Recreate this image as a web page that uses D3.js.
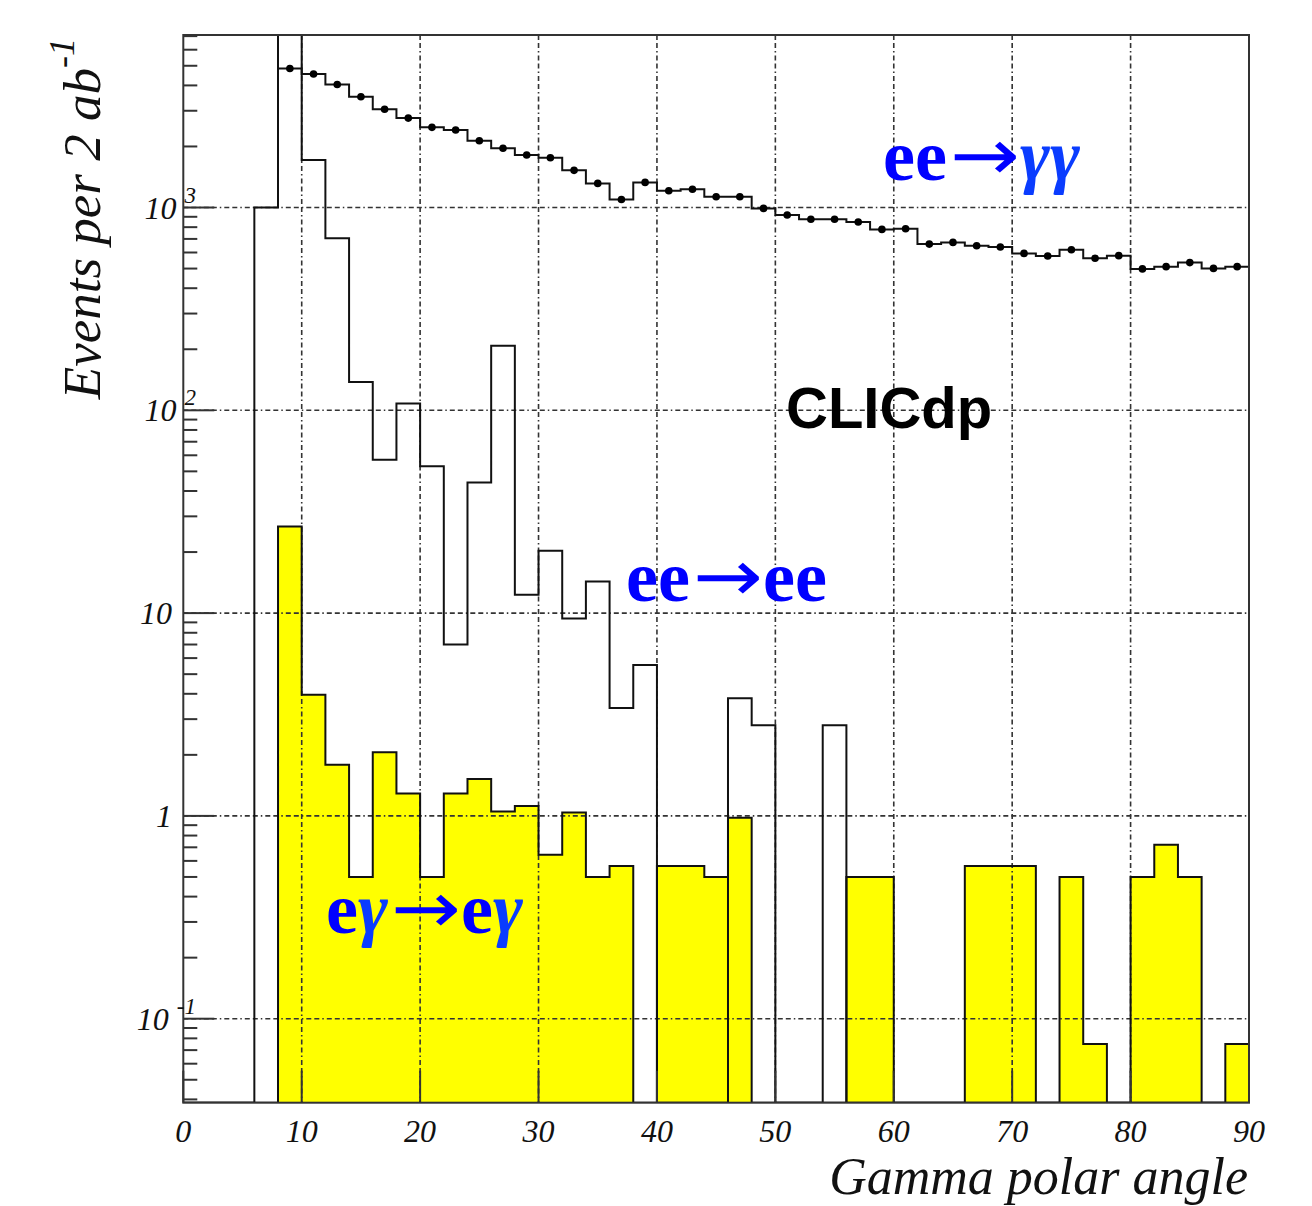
<!DOCTYPE html>
<html>
<head>
<meta charset="utf-8">
<script src="https://d3js.org/d3.v7.min.js"></script>
<style>
    body { margin: 0; background: #fff; }
</style>
</head>
<body>
<div id="chart"></div>
<script>
// histogram bins (lower edges, 2 degrees wide)
const binStarts = [0, 2, 4, 6, 8, 10, 12, 14, 16, 18, 20, 22, 24, 26, 28, 30, 32, 34, 36, 38,
    40, 42, 44, 46, 48, 50, 52, 54, 56, 58, 60, 62, 64, 66, 68, 70, 72, 74, 76, 78,
    80, 82, 84, 86, 88];
const binWidth = 2;

// ee -> gamma gamma (points + step line)
const eeToGG = [0, 0, 0, 0, 4850, 4550, 4045, 3515, 3050, 2760, 2485, 2410, 2135, 1960, 1815, 1760, 1525, 1315, 1095, 1330,
    1210, 1230, 1130, 1130, 990, 918, 875, 875, 848, 780, 786, 660, 673, 648, 639, 594, 577, 619, 562, 579,
    498, 511, 535, 501, 511];

// ee -> ee (open histogram), bin 8-10 is off scale
const eeToEE = [0, 0, 0, 1000, 30000, 1715, 705, 138, 57, 108, 53, 7.0, 44, 208, 12.3, 20.3, 9.4, 14.3, 3.4, 5.55,
    0, 0, 0, 3.8, 2.8, 0, 0, 2.8, 0, 0, 0, 0, 0, 0, 0, 0, 0, 0, 0, 0,
    0, 0, 0, 0, 0];

// e gamma -> e gamma (yellow filled histogram)
const egToEG = [0, 0, 0, 0, 26.7, 3.96, 1.79, 0.5, 2.06, 1.29, 0.5, 1.29, 1.52, 1.05, 1.12, 0.644, 1.04, 0.5, 0.567, 0,
    0.567, 0.567, 0.5, 0.98, 0, 0, 0, 0, 0.5, 0.5, 0, 0, 0, 0.567, 0.567, 0.567, 0, 0.5, 0.075, 0,
    0.5, 0.72, 0.5, 0, 0.075];

const xTickValues = [0, 10, 20, 30, 40, 50, 60, 70, 80, 90];
const yTickValues = [0.1, 1, 10, 100, 1000];
const yTickBase = ["10", "1", "10", "10", "10"];
const yTickExp = ["-1", "", "", "2", "3"];

const width = 1312, height = 1206;
const pLeft = 183.3, pRight = 1249, pTop = 35, pBottom = 1102.7;
const yMin = 0.03853, yMax = 7090;

let svg = d3.select("#chart")
    .append("svg")
    .attr("width", width)
    .attr("height", height)
    .style("background", "#fff");

let x = d3.scaleLinear()
    .domain([0, 90])
    .range([pLeft, pRight]);

let y = d3.scaleLog()
    .domain([yMin, yMax])
    .range([pBottom, pTop]);

svg.append("clipPath")
    .attr("id", "plot-clip")
    .append("rect")
    .attr("x", pLeft)
    .attr("y", pTop)
    .attr("width", pRight - pLeft)
    .attr("height", pBottom - pTop);

let plot = svg.append("g").attr("clip-path", "url(#plot-clip)");

function stepPoints(values) {
    let pts = [];
    binStarts.forEach((b, i) => {
        pts.push({ x: b, v: values[i] });
        pts.push({ x: b + binWidth, v: values[i] });
    });
    return pts;
}

function yPos(v) {
    return v > 0 ? y(v) : pBottom;
}

let line = d3.line()
    .x(d => x(d.x))
    .y(d => yPos(d.v));

let area = d3.area()
    .x(d => x(d.x))
    .y0(pBottom)
    .y1(d => yPos(d.v));

// yellow fill first, grid goes over it
plot.append("path")
    .datum(stepPoints(egToEG))
    .attr("d", area)
    .attr("fill", "#ffff00")
    .attr("stroke", "none");

let dash = "5,3,5,3,1.5,3";

plot.selectAll(".vgrid")
    .data(xTickValues.slice(1, -1))
    .enter()
    .append("line")
    .attr("class", "vgrid")
    .attr("x1", d => x(d))
    .attr("x2", d => x(d))
    .attr("y1", pTop)
    .attr("y2", pBottom)
    .attr("stroke", "#333")
    .attr("stroke-width", 1.6)
    .attr("stroke-dasharray", dash);

plot.selectAll(".hgrid")
    .data(yTickValues)
    .enter()
    .append("line")
    .attr("class", "hgrid")
    .attr("x1", pLeft)
    .attr("x2", pRight)
    .attr("y1", d => y(d))
    .attr("y2", d => y(d))
    .attr("stroke", "#333")
    .attr("stroke-width", 1.6)
    .attr("stroke-dasharray", dash);

plot.append("path")
    .datum(stepPoints(egToEG))
    .attr("d", line)
    .attr("fill", "none")
    .attr("stroke", "#111")
    .attr("stroke-width", 2);

plot.append("path")
    .datum(stepPoints(eeToEE))
    .attr("d", line)
    .attr("fill", "none")
    .attr("stroke", "#111")
    .attr("stroke-width", 2);

plot.append("path")
    .datum(stepPoints(eeToGG).filter(d => d.v > 0))
    .attr("d", line)
    .attr("fill", "none")
    .attr("stroke", "#111")
    .attr("stroke-width", 2);

plot.selectAll(".pt")
    .data(binStarts.map((b, i) => ({ x: b + binWidth / 2, v: eeToGG[i] })).filter(d => d.v > 0))
    .enter()
    .append("circle")
    .attr("class", "pt")
    .attr("cx", d => x(d.x))
    .attr("cy", d => y(d.v))
    .attr("r", 3.8)
    .attr("fill", "#000");

// frame
svg.append("rect")
    .attr("x", pLeft)
    .attr("y", pTop)
    .attr("width", pRight - pLeft)
    .attr("height", pBottom - pTop)
    .attr("fill", "none")
    .attr("stroke", "#333")
    .attr("stroke-width", 2);

// x ticks
svg.selectAll(".xtick")
    .data(xTickValues)
    .enter()
    .append("line")
    .attr("class", "xtick")
    .attr("x1", d => x(d))
    .attr("x2", d => x(d))
    .attr("y1", pBottom)
    .attr("y2", pBottom - 32)
    .attr("stroke", "#333")
    .attr("stroke-width", 2);

// y ticks, majors longer
let yTicks = y.ticks().filter(d => d >= yMin && d <= yMax);
svg.selectAll(".ytick")
    .data(yTicks)
    .enter()
    .append("line")
    .attr("class", "ytick")
    .attr("x1", pLeft)
    .attr("x2", d => yTickValues.includes(d) ? pLeft + 31 : pLeft + 14)
    .attr("y1", d => y(d))
    .attr("y2", d => y(d))
    .attr("stroke", "#333")
    .attr("stroke-width", 2);

let serif = "'Liberation Serif', 'Times New Roman', serif";

svg.selectAll(".xlabel")
    .data(xTickValues)
    .enter()
    .append("text")
    .attr("class", "xlabel")
    .attr("x", d => x(d))
    .attr("y", 1142)
    .attr("text-anchor", "middle")
    .style("font-family", serif)
    .style("font-style", "italic")
    .style("font-size", "32px")
    .style("fill", "#111")
    .text(d => d);

yTickValues.forEach((v, i) => {
    let t = svg.append("text")
        .attr("y", y(v) + 11)
        .attr("text-anchor", "end")
        .style("font-family", serif)
        .style("font-style", "italic")
        .style("font-size", "32px")
        .style("fill", "#111");
    if (yTickExp[i] === "") {
        t.attr("x", 172).text(yTickBase[i]);
    } else {
        t.attr("x", 196);
        t.append("tspan").text(yTickBase[i]);
        t.append("tspan")
            .attr("dx", 8)
            .attr("dy", -16)
            .style("font-size", "23px")
            .text(yTickExp[i]);
    }
});

// axis titles
svg.append("text")
    .attr("x", 1248)
    .attr("y", 1194)
    .attr("text-anchor", "end")
    .style("font-family", serif)
    .style("font-style", "italic")
    .style("font-size", "52px")
    .style("fill", "#111")
    .text("Gamma polar angle");

let ytitle = svg.append("text")
    .attr("transform", "translate(100,38) rotate(-90)")
    .attr("text-anchor", "end")
    .style("font-family", serif)
    .style("font-style", "italic")
    .style("font-size", "53px")
    .style("fill", "#111");
ytitle.append("tspan").text("Events per 2 ab");
ytitle.append("tspan")
    .attr("dy", -26)
    .style("font-size", "36px")
    .text("-1");

// process labels, arrow stretched like the original long arrow
let labels = [
    { text: "ee\u2192\u03b3\u03b3", x: 883, y: 180 },
    { text: "ee\u2192ee", x: 626, y: 601 },
    { text: "e\u03b3\u2192e\u03b3", x: 326, y: 933 }
];
labels.forEach(lab => {
    let t = svg.append("text")
        .attr("class", "proc")
        .attr("x", lab.x)
        .attr("y", lab.y)
        .style("font-family", serif)
        .style("font-weight", "bold")
        .style("font-size", "72px")
        .style("fill", "#0000ff");
    Array.from(lab.text).forEach(ch => {
        let s = t.append("tspan").text(ch);
        if (ch === "\u2192") {
            s.style("font-family", "'DejaVu Sans', sans-serif")
                .style("font-weight", "normal")
                .attr("dx", 3)
                .attr("textLength", 70)
                .attr("lengthAdjust", "spacingAndGlyphs");
        } else if (ch === "\u03b3") {
            s.style("font-style", "italic")
                .style("fill", "#0a3cff");
        }
    });
});

svg.append("text")
    .attr("x", 786)
    .attr("y", 428)
    .style("font-family", "'Liberation Sans', Arial, sans-serif")
    .style("font-weight", "bold")
    .style("font-size", "58px")
    .style("fill", "#000")
    .text("CLICdp");
</script>
</body>
</html>
